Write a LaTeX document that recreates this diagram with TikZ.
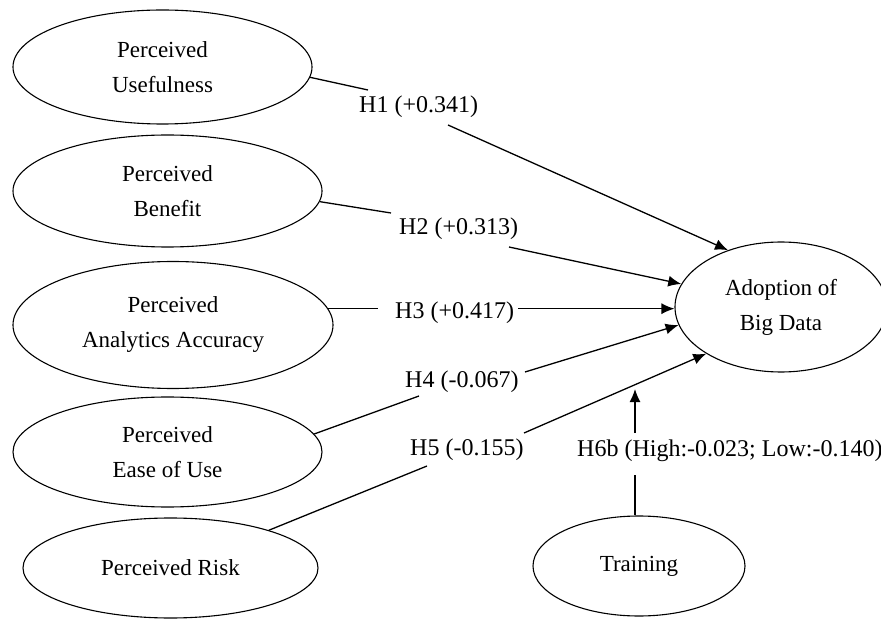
\documentclass[tikz,border=0pt]{standalone}
\usepackage{fontspec}
\setmainfont{Liberation Serif}
\usetikzlibrary{arrows.meta,shapes.geometric}
\begin{document}
\begin{tikzpicture}[x=1pt,y=-1pt,
  construct/.style={draw,ellipse,line width=1.1pt,inner sep=0pt,align=center,font=\fontsize{23}{35}\selectfont},
  hyp/.style={inner sep=0pt,anchor=base west,font=\fontsize{24}{28}\selectfont},
  link/.style={line width=1.3pt},
  arr/.style={line width=1.3pt,-{Latex[length=13pt,width=11pt]}}]
\useasboundingbox (0,0) rectangle (881,620);
% constructs
\node[construct,minimum width=299pt,minimum height=114pt] (pu) at (162.5,67) {Perceived\\Usefulness};
\node[construct,minimum width=309pt,minimum height=112pt] (pb) at (167.5,191) {Perceived\\Benefit};
\node[construct,minimum width=320pt,minimum height=127pt] (pa) at (173,325) {Perceived\\Analytics Accuracy};
\node[construct,minimum width=309pt,minimum height=110pt] (pe) at (167.5,452) {Perceived\\Ease of Use};
\node[construct,minimum width=295pt,minimum height=100pt] (pr) at (170.5,568) {Perceived Risk};
\node[construct,minimum width=212pt,minimum height=130pt] (ad) at (781,307) {Adoption of\\Big Data};
\node[construct,minimum width=212pt,minimum height=100pt] (tr) at (639,566) {Training};
% hypothesis labels
\node[hyp] (h1) at (359,113) {H1 (+0.341)};
\node[hyp] (h2) at (399,235) {H2 (+0.313)};
\node[hyp] (h3) at (395,319) {H3 (+0.417)};
\node[hyp] (h4) at (405,388) {H4 (-0.067)};
\node[hyp] (h5) at (410,455) {H5 (-0.155)};
\node[hyp] (h6) at (577,456) {H6b (High:-0.023; Low:-0.140)};
% connector break points
\coordinate (h1s) at (368,90);  \coordinate (h1e) at (448,125);
\coordinate (h2s) at (391,213); \coordinate (h2e) at (509,247);
\path (pa.6) ++(50,0) coordinate (h3s);
\path (pa.6) ++(190,0) coordinate (h3e);
\coordinate (h4s) at (419,396); \coordinate (h4e) at (525,372);
\coordinate (h5s) at (427,466); \coordinate (h5e) at (524,433);
\coordinate (h6s) at (635,475); \coordinate (h6e) at (635,433);
\coordinate (h6t) at (635,389);
% connectors
\draw[link] (pu.-4) -- (h1s);
\draw[arr] (h1e) -- (ad.133);
\draw[link] (pb.-4) -- (h2s);
\draw[arr] (h2e) -- (ad.167);
\draw[link] (pa.6) -- (h3s);
\draw[arr] (h3e) -- (h3e -| ad.west);
\draw[link] (pe.7) -- (h4s);
\draw[arr] (h4e) -- (ad.190);
\draw[link] (pr.21) -- (h5s);
\draw[arr] (h5e) -- (ad.212);
\draw[link] (h6s |- tr.north) -- (h6s);
\draw[arr] (h6e) -- (h6t);
\end{tikzpicture}
\end{document}
